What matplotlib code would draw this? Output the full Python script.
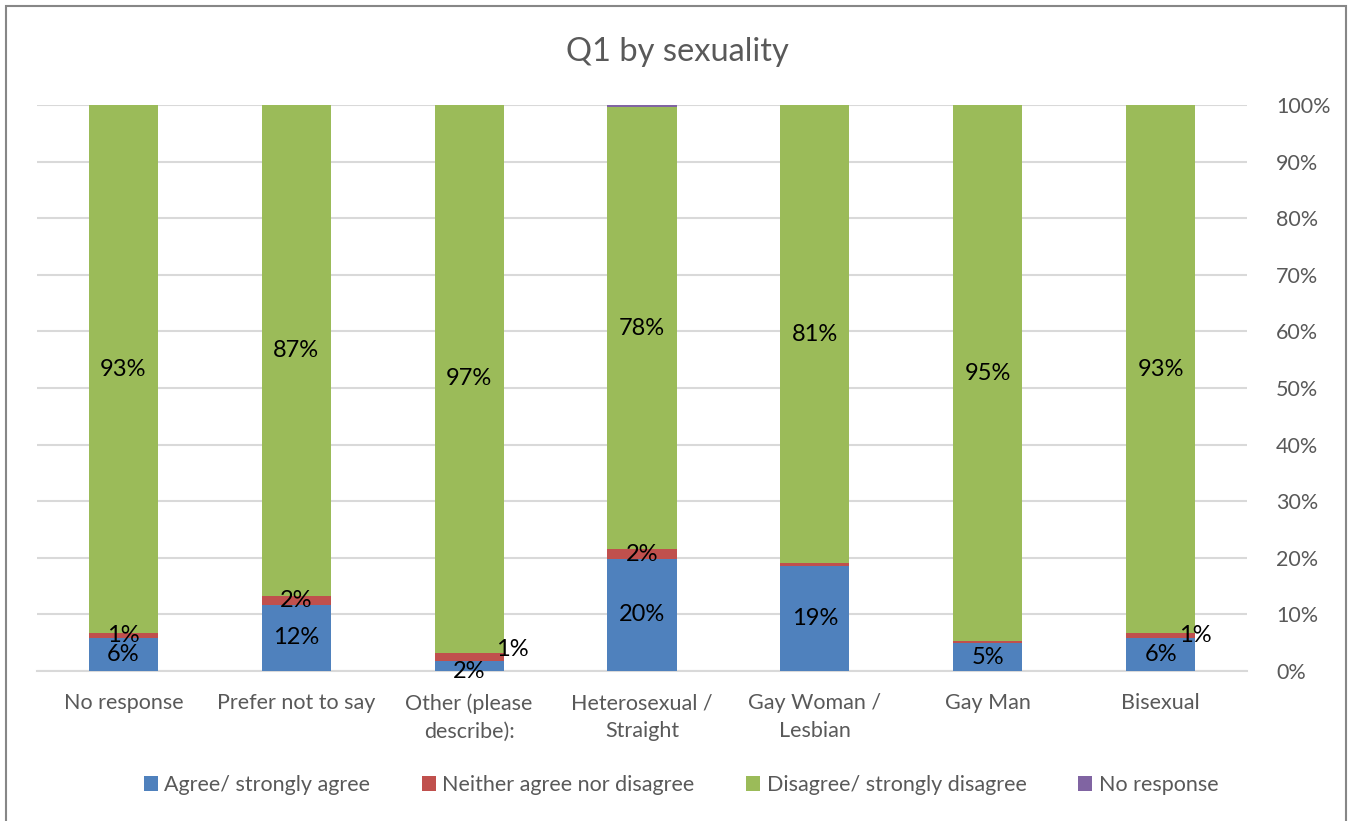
import matplotlib
matplotlib.use("Agg")
import matplotlib.pyplot as plt
from matplotlib.patches import Rectangle
import numpy as np

plt.rcParams['font.family'] = ['Lato', 'DejaVu Sans']

categories = ["No response", "Prefer not to say", "Other (please\ndescribe):",
              "Heterosexual /\nStraight", "Gay Woman /\nLesbian", "Gay Man", "Bisexual"]
series_names = ["Agree/ strongly agree", "Neither agree nor disagree",
                "Disagree/ strongly disagree", "No response"]
agree = [5.9, 11.7, 1.8, 19.8, 18.6, 4.9, 5.8]
neither = [0.8, 1.6, 1.4, 1.7, 0.4, 0.4, 0.9]
disagree = [93.3, 86.7, 96.8, 78.2, 81.0, 94.7, 93.3]
no_resp = [0.0, 0.0, 0.0, 0.3, 0.0, 0.0, 0.0]
colors = ["#4F81BD", "#C0504D", "#9BBB59", "#8064A2"]
yticks = [0, 10, 20, 30, 40, 50, 60, 70, 80, 90, 100]

W, H = 1351, 821
fig = plt.figure(figsize=(W / 100, H / 100), dpi=100)
ax = fig.add_axes([37 / W, 1 - 671 / H, (1247 - 37) / W, (671 - 105) / H])

x = np.arange(len(categories))
width = 0.40
bottom = np.zeros(len(categories))
series = [agree, neither, disagree, no_resp]
containers = []
for vals, c, name in zip(series, colors, series_names):
    b = ax.bar(x, vals, width, bottom=bottom, color=c, label=name, zorder=3)
    containers.append((b, np.array(vals), bottom.copy()))
    bottom = bottom + np.array(vals)

# data labels
special_offsets = {(1, 2): (0.25, 1.3), (1, 6): (0.2, 0.0), (0, 2): (0.0, -0.9)}
for si, (b, vals, bot) in enumerate(containers[:3]):
    for i, v in enumerate(vals):
        if v < 0.6:
            continue
        dx, dy = special_offsets.get((si, i), (0.0, 0.0))
        ax.text(x[i] + dx, bot[i] + v / 2 + dy, f"{round(v):.0f}%",
                ha="center", va="center", fontsize=17, color="black", zorder=5)

ax.set_xlim(-0.5, len(categories) - 0.5)
ax.set_ylim(0, 100)
ax.yaxis.tick_right()
ax.set_yticks(yticks)
ax.set_yticklabels([f"{t}%" for t in yticks], ha="left")
ax.tick_params(axis="y", length=0, pad=21, labelsize=15.5, labelcolor="#595959")
ax.set_xticks(x)
ax.set_xticklabels(categories, fontsize=15.5, color="#595959", linespacing=1.5)
ax.tick_params(axis="x", length=0, pad=16)
ax.grid(axis="y", color="#D9D9D9", linewidth=1.5, zorder=0)
for s in ["top", "left", "right"]:
    ax.spines[s].set_visible(False)
ax.spines["bottom"].set_color("#D9D9D9")
ax.spines["bottom"].set_linewidth(1.5)

fig.text(677 / W, 1 - 52 / H, "Q1 by sexuality", ha="center", va="center",
         fontsize=23.5, color="#595959")

leg = fig.legend(loc="center", bbox_to_anchor=(681 / W, 1 - 785 / H), ncol=4,
                 frameon=False, fontsize=15.5, handlelength=0.65, handleheight=0.65,
                 handletextpad=0.3, columnspacing=2.4)
for t in leg.get_texts():
    t.set_color("#595959")

fig.patches.append(Rectangle((6 / W, -0.05), (1346 - 6) / W, (H - 6) / H + 0.05,
                             transform=fig.transFigure, fill=False,
                             edgecolor="#878787", linewidth=1.5))

fig.savefig("out.png", dpi=100)
